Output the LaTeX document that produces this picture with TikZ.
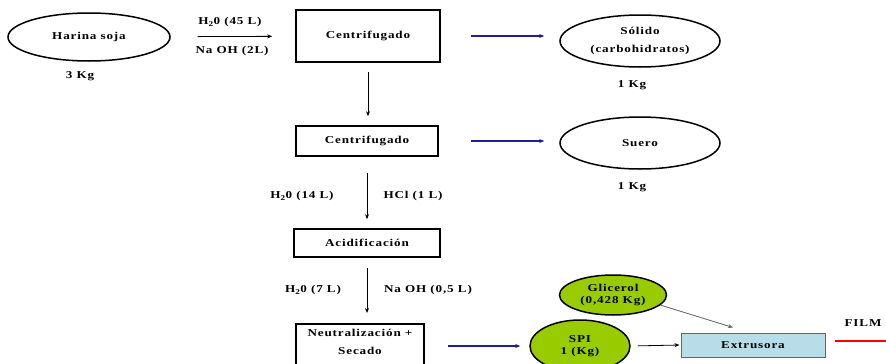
\documentclass[tikz,border=0pt]{standalone}
\usepackage{fontspec}
\setmainfont{Liberation Serif}[FakeStretch=1.25,LetterSpace=8]
\usetikzlibrary{positioning,calc,shapes.geometric,arrows.meta}
\definecolor{Navy}{HTML}{1F1F8F}
\definecolor{Lime}{HTML}{99CC00}
\definecolor{Aqua}{HTML}{B7DEE8}
\definecolor{Film}{HTML}{FF0000}
\tikzset{
  flow box/.style={draw=black,line width=1.6pt,fill=white,align=center,
    inner sep=2pt,font=\fontsize{10.5}{18}\selectfont\bfseries},
  flow ellipse/.style={ellipse,draw=black,line width=1.5pt,align=center,
    inner sep=0pt,font=\fontsize{10.5}{18}\selectfont\bfseries},
  green ellipse/.style={flow ellipse,fill=Lime,font=\fontsize{10.5}{12}\selectfont\bfseries},
  flow text/.style={inner sep=1pt,font=\fontsize{10.5}{12}\selectfont\bfseries},
  flow arrow/.style={->,>={Stealth[length=5pt,width=4pt]},line width=.8pt,draw=black},
  out arrow/.style={->,>={Stealth[length=5pt,width=4pt]},line width=1.3pt,draw=Navy}
}
\begin{document}
\begin{tikzpicture}[x=1pt,y=-1pt]
  \useasboundingbox (0,0) rectangle (886,364);
  % material de partida
  \node[flow ellipse,minimum width=162,minimum height=48] (harina) at (89,37) {Harina soja};
  \node[flow text] (harina kg) at (80,76) {3 Kg};
  % etapas del proceso
  \node[flow box,minimum width=144,minimum height=52] (centr1) at (368,36) {Centrifugado};
  \node[flow box,minimum width=142,minimum height=30] (centr2) at (367,141) {Centrifugado};
  \node[flow box,minimum width=146,minimum height=28] (acid) at (367,243) {Acidificación};
  \node[flow box,minimum width=128,inner ysep=5pt,text depth=16pt,anchor=north] (neut) at (360,323) {Neutralización +\\Secado};
  % productos separados
  \node[flow ellipse,minimum width=160,minimum height=52] (solido) at (640,41) {Sólido\\(carbohidratos)};
  \node[flow text] (solido kg) at (632,85) {1 Kg};
  \node[flow ellipse,minimum width=160,minimum height=52] (suero) at (640,143) {Suero};
  \node[flow text] (suero kg) at (632,187) {1 Kg};
  % extrusion
  \node[green ellipse,minimum width=107,minimum height=40] (glic) at (613,295) {Glicerol\\(0,428 Kg)};
  \node[green ellipse,minimum width=100,minimum height=52] (spi) at (580,346) {SPI\\1 (Kg)};
  \node[flow box,draw=black!60,line width=1pt,fill=Aqua,minimum width=144,minimum height=24] (extr) at (753,345) {Extrusora};
  \node[flow text] (film) at (863,323) {FILM};
  \coordinate (film end) at (886,341);
  % reactivos
  \node[flow text] (h2o a) at (230,22) {H\textsubscript{2}0 (45 L)};
  \node[flow text] (naoh a) at (232,51) {Na OH (2L)};
  \node[flow text] (h2o b) at (302,196) {H\textsubscript{2}0 (14 L)};
  \node[flow text] (hcl b) at (413,196) {HCl (1 L)};
  \node[flow text] (h2o c) at (313,290) {H\textsubscript{2}0 (7 L)};
  \node[flow text] (naoh c) at (428,290) {Na OH (0,5 L)};
  % flechas
  \draw[flow arrow,shorten <=27pt,shorten >=23pt] (harina) -- (centr1);
  \draw[flow arrow,shorten <=9pt,shorten >=9pt] (centr1) -- (centr1 |- centr2.north);
  \draw[flow arrow,shorten <=16pt,shorten >=9pt] (centr2) -- (centr2 |- acid.north);
  \draw[flow arrow,shorten <=10pt,shorten >=10pt] (acid) -- (acid |- neut.north);
  \draw[out arrow,shorten <=30pt,shorten >=15pt] (centr1.east) -- (centr1.east -| solido.west);
  \draw[out arrow,shorten <=32pt,shorten >=15pt] (centr2.east) -- (centr2.east -| suero.west);
  \draw[out arrow,shorten <=23pt,shorten >=9pt] (neut.east |- spi) -- (spi.west);
  \draw[flow arrow,shorten <=7pt,shorten >=1pt] (spi.east) -- (extr.west);
  \draw[flow arrow,draw=black!60,fill=black!60] (glic.-12) -- ([xshift=-20pt,yshift=5pt]extr.north);
  \draw[draw=Film,line width=1.5pt,shorten <=9pt] (extr.east |- film end) -- (film end);
\end{tikzpicture}
\end{document}
